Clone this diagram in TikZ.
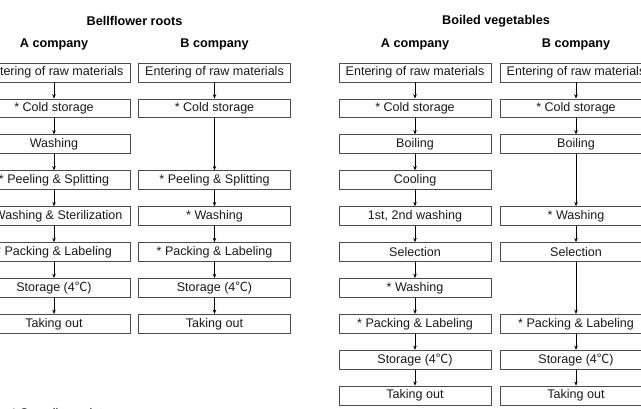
\documentclass[tikz,border=0pt]{standalone}
\usepackage{fontspec}
\setmainfont{Liberation Sans}
\newfontfamily\cjk{Noto Sans CJK KR}
\usetikzlibrary{arrows.meta}
\newcommand{\degC}{{\cjk ℃}}

\begin{document}
\begin{tikzpicture}[x=0.75pt, y=-0.75pt,
    procbox/.style={draw=black!70, line width=0.6pt, minimum width=114pt,
        minimum height=14.2pt, inner sep=0pt, text=black!90,
        font=\fontsize{9.4}{11}\selectfont},
    flow/.style={-{Stealth[length=3.2pt,width=2.6pt]}, line width=0.6pt},
    heading/.style={font=\fontsize{9.5}{11}\selectfont\bfseries}]
    \useasboundingbox (0,0) rectangle (641,408);

    % Headings
    \node[heading] (rootsT) at (134.5,21) {Bellflower roots};
    \node[heading] (vegT) at (496,21) {Boiled vegetables};
    \node[heading] (RAT) at (54,44) {A company};
    \node[heading] (RBT) at (214.5,44) {B company};
    \node[heading] (VAT) at (415,44) {A company};
    \node[heading] (VBT) at (576,44) {B company};

    % Bellflower roots, A company (rows 1 to 8)
    \foreach \r/\t [count=\i] in {1/{Entering of raw materials}, 2/{* Cold storage},
        3/{Washing}, 4/{* Peeling \& Splitting}, 5/{* Washing \& Sterilization},
        6/{* Packing \& Labeling}, 7/{Storage (4\degC)}, 8/{Taking out}} {
        \node[procbox] (RA\i) at (54,{72.5+35.9*(\r-1)}) {\t};
    }
    \foreach \j [count=\i] in {2,...,8}
        \draw[flow] (RA\i) -- (RA\j);

    % Bellflower roots, B company (row 3 skipped)
    \foreach \r/\t [count=\i] in {1/{Entering of raw materials}, 2/{* Cold storage},
        4/{* Peeling \& Splitting}, 5/{* Washing}, 6/{* Packing \& Labeling},
        7/{Storage (4\degC)}, 8/{Taking out}} {
        \node[procbox] (RB\i) at (214.5,{72.5+35.9*(\r-1)}) {\t};
    }
    \foreach \j [count=\i] in {2,...,7}
        \draw[flow] (RB\i) -- (RB\j);

    % Boiled vegetables, A company (rows 1 to 10)
    \foreach \r/\t [count=\i] in {1/{Entering of raw materials}, 2/{* Cold storage},
        3/{Boiling}, 4/{Cooling}, 5/{1st, 2nd washing}, 6/{Selection},
        7/{* Washing}, 8/{* Packing \& Labeling}, 9/{Storage (4\degC)},
        10/{Taking out}} {
        \node[procbox] (VA\i) at (415,{72.5+35.9*(\r-1)}) {\t};
    }
    \foreach \j [count=\i] in {2,...,10}
        \draw[flow] (VA\i) -- (VA\j);

    % Boiled vegetables, B company (rows 4 and 7 skipped)
    \foreach \r/\t [count=\i] in {1/{Entering of raw materials}, 2/{* Cold storage},
        3/{Boiling}, 5/{* Washing}, 6/{Selection}, 8/{* Packing \& Labeling},
        9/{Storage (4\degC)}, 10/{Taking out}} {
        \node[procbox] (VB\i) at (576,{72.5+35.9*(\r-1)}) {\t};
    }
    \foreach \j [count=\i] in {2,...,8}
        \draw[flow] (VB\i) -- (VB\j);

    % Footnote (cut by the lower edge)
    \node[anchor=base west, font=\fontsize{9.4}{11}\selectfont, text=black!90]
        (note) at (7,417) {* Sampling points};
\end{tikzpicture}
\end{document}
